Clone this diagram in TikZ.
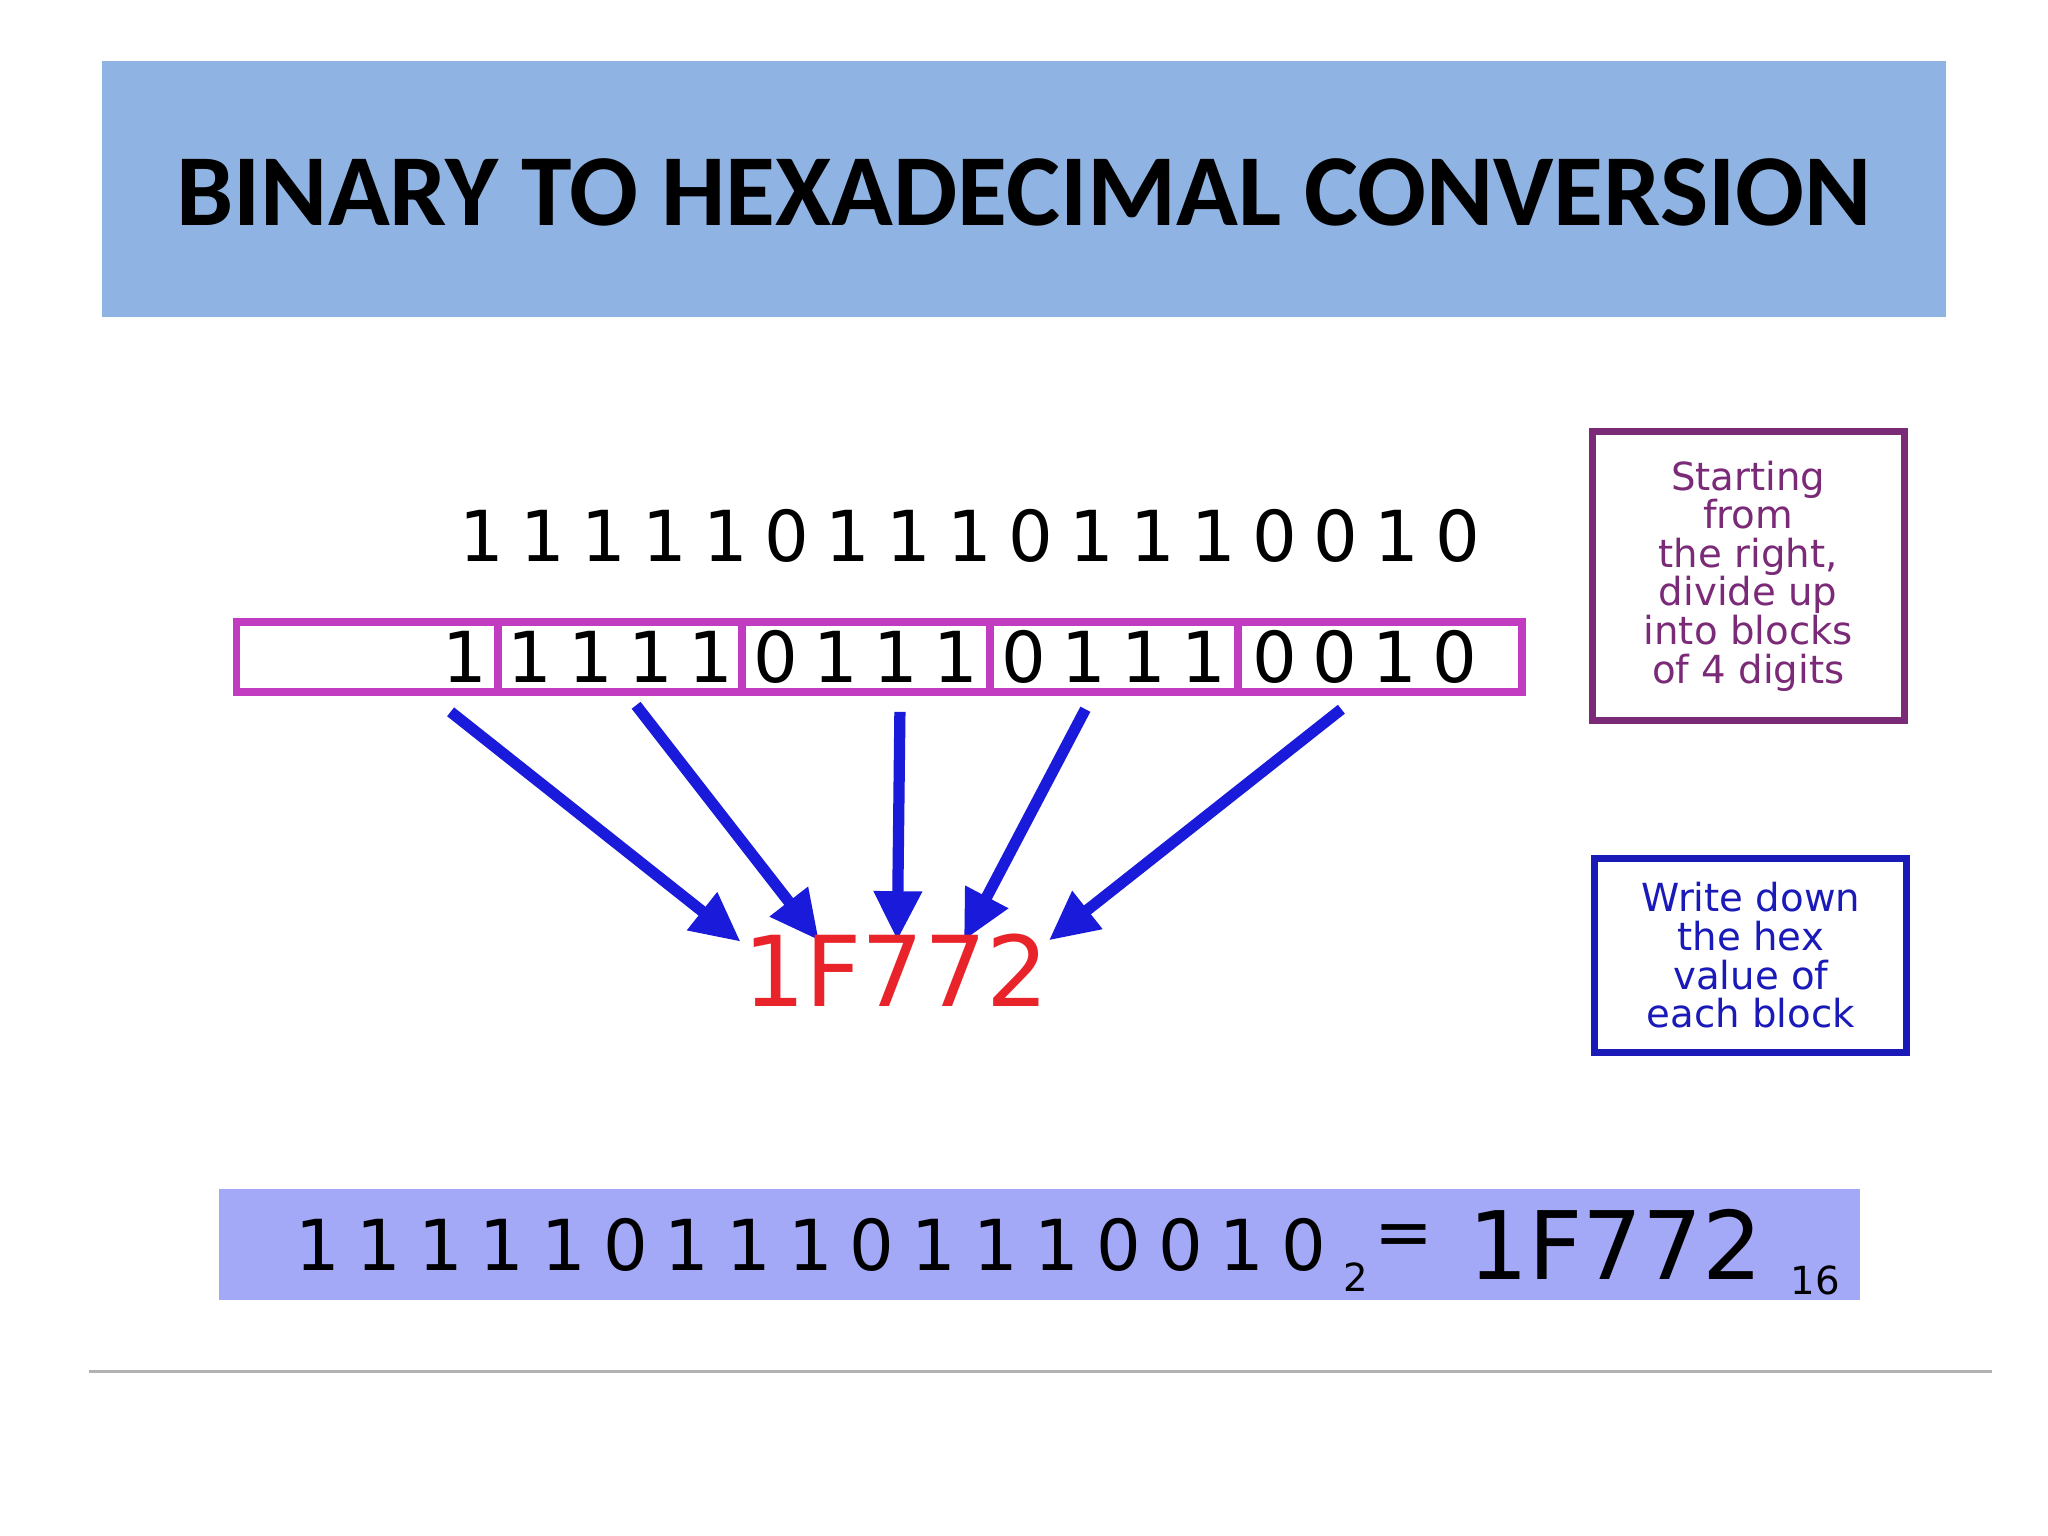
\documentclass[tikz,border=0pt]{standalone}
\usepackage{fontspec}
\setmainfont{DejaVu Sans}
\newfontfamily\titlefont{Carlito}
\usetikzlibrary{arrows.meta}
\definecolor{titlebg}{HTML}{8FB4E3}
\definecolor{bandbg}{HTML}{A3A9F7}
\definecolor{mag}{HTML}{C13CC1}
\definecolor{purp}{HTML}{7B2A78}
\definecolor{dblue}{HTML}{1A1AB8}
\definecolor{arr}{HTML}{1A1ADB}
\definecolor{hexred}{HTML}{E8232A}
\tikzset{
 dig/.style={inner sep=0pt,font=\fontsize{20}{20}\selectfont,anchor=center},
 conn/.style={arr,line width=3.2pt,-{Triangle[length=14pt,width=13pt]}},
 note/.style={draw,line width=2pt,align=center,font=\fontsize{11}{11}\selectfont,inner sep=0pt}
}
\begin{document}
\begin{tikzpicture}[x=0.01306cm,y=-0.01306cm]
\useasboundingbox (0,0) rectangle (1568,1176);
\fill[white] (0,0) rectangle (1568,1176);
% title
\fill[titlebg] (78,47) rectangle (1490,243);
\node[font=\titlefont\bfseries] (title) at (784,147) {\resizebox{16.95cm}{!}{BINARY TO HEXADECIMAL CONVERSION}};
% top binary row
\foreach \d [count=\i from 0] in {1,1,1,1,1,0,1,1,1,0,1,1,1,0,0,1,0}
  \node[dig] (t\i) at ({369+46.7*\i},410) {\d};
% boxed row
\node[draw=mag,line width=2.2pt,minimum width=984*0.01306cm,minimum height=54*0.01306cm,inner sep=0pt] (row) at (673,503) {};
\foreach \x in {381,568,758,948} \draw[mag,line width=2.2pt] (\x,476) -- (\x,530);
\node[dig] (b0) at (356,503) {1};
\foreach \d [count=\j from 0] in {1,1,1,1} \node[dig] (c1\j) at ({406+46*\j},503) {\d};
\foreach \d [count=\j from 0] in {0,1,1,1} \node[dig] (c2\j) at ({594+46*\j},503) {\d};
\foreach \d [count=\j from 0] in {0,1,1,1} \node[dig] (c3\j) at ({784+46*\j},503) {\d};
\foreach \d [count=\j from 0] in {0,0,1,0} \node[dig] (c4\j) at ({976+46*\j},503) {\d};
% arrows
\coordinate (s0) at (345,545); \coordinate (e0) at (567,721);
\coordinate (s1) at (487,540); \coordinate (e1) at (627,720);
\coordinate (s2) at (689,545); \coordinate (e2) at (687,720);
\coordinate (s3) at (831,543); \coordinate (e3) at (738,720);
\coordinate (s4) at (1027,543); \coordinate (e4) at (803,720);
\foreach \k in {0,...,4} \draw[conn] (s\k) -- (e\k);
\node[dig,text=hexred] (hex) at (686,743) {\resizebox{3.05cm}{!}{1F772}};
% notes
\node[note,draw=purp,text=purp,minimum width=239*0.01306cm,minimum height=222*0.01306cm] (n1) at (1338.5,441) {Starting\\from\\the right,\\divide up\\into blocks\\of 4 digits};
\node[note,draw=dblue,text=dblue,minimum width=239*0.01306cm,minimum height=149*0.01306cm] (n2) at (1340.5,731.5) {Write down\\the hex\\value of\\each block};
% band
\fill[bandbg] (168,910) rectangle (1424,995);
\foreach \d [count=\i from 0] in {1,1,1,1,1,0,1,1,1,0,1,1,1,0,0,1,0}
  \node[dig] (r\i) at ({243+47.2*\i},953) {\d};
\node[inner sep=0pt,font=\fontsize{11}{11}\selectfont] (sub2) at (1038,978) {2};
\node[dig] (eq) at (1075,950) {=};
\node[dig] (hexr) at (1237,953) {\resizebox{2.95cm}{!}{1F772}};
\node[inner sep=0pt,font=\fontsize{11}{11}\selectfont] (sub16) at (1390,980) {16};
% rule
\draw[gray!60,line width=1pt] (68,1050) -- (1525,1050);
\end{tikzpicture}
\end{document}
